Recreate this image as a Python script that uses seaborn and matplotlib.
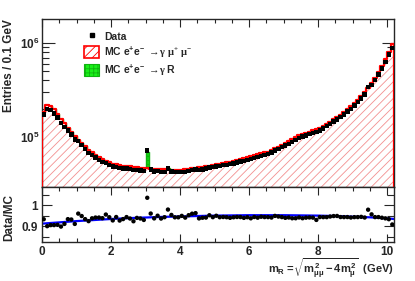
import numpy as np
import pandas as pd
import matplotlib
matplotlib.use("Agg")
import matplotlib.pyplot as plt
from matplotlib.patches import Patch
from matplotlib.lines import Line2D
from matplotlib.ticker import LogLocator, MultipleLocator, FixedLocator, NullFormatter, FixedFormatter
import seaborn as sns

# ---------------- data ----------------
# bin centres, 0.1 GeV bins from 0 to 10.2 GeV
mass_bins = np.round(np.arange(0.05, 10.2, 0.1), 2)

# MC e+e- -> gamma mu+ mu- (entries / 0.1 GeV)
mc_mumu = [
    1.86e5, 2.20e5, 2.14e5, 1.96e5, 1.77e5, 1.56e5, 1.40e5, 1.26e5, 1.14e5, 1.03e5,
    9.40e4, 8.65e4, 7.95e4, 7.35e4, 6.85e4, 6.42e4, 6.08e4, 5.80e4, 5.57e4, 5.38e4,
    5.22e4, 5.12e4, 5.04e4, 4.97e4, 4.92e4, 4.87e4, 4.82e4, 4.77e4, 4.72e4, 4.68e4,
    4.65e4, 4.62e4, 4.59e4, 4.56e4, 4.54e4, 4.52e4, 4.50e4, 4.49e4, 4.48e4, 4.48e4,
    4.49e4, 4.54e4, 4.59e4, 4.65e4, 4.70e4, 4.75e4, 4.82e4, 4.89e4, 4.97e4, 5.05e4,
    5.13e4, 5.21e4, 5.30e4, 5.38e4, 5.46e4, 5.53e4, 5.66e4, 5.79e4, 5.93e4, 6.07e4,
    6.22e4, 6.37e4, 6.53e4, 6.68e4, 6.84e4, 7.00e4, 7.28e4, 7.59e4, 7.90e4, 8.24e4,
    8.60e4, 9.00e4, 9.44e4, 9.93e4, 1.040e5, 1.074e5, 1.107e5, 1.140e5, 1.175e5, 1.208e5,
    1.245e5, 1.310e5, 1.380e5, 1.455e5, 1.535e5, 1.625e5, 1.725e5, 1.840e5, 1.970e5, 2.120e5,
    2.290e5, 2.490e5, 2.720e5, 3.000e5, 3.340e5, 3.750e5, 4.260e5, 4.900e5, 5.700e5, 6.700e5,
    8.050e5, 9.750e5,
]

# MC e+e- -> gamma R (resonances J/psi, psi(2S), Upsilon(1S))
res_mass = [3.05, 3.15, 3.65, 9.45]
res_counts = [2.3e4, 1.0e3, 2.0e3, 1.2e4]

# Data (entries / 0.1 GeV)
data_counts = [
    1.735e5, 1.980e5, 1.937e5, 1.774e5, 1.604e5, 1.401e5, 1.275e5, 1.176e5, 1.062e5, 9.38e4,
    9.02e4, 8.20e4, 7.42e4, 6.79e4, 6.42e4, 6.04e4, 5.72e4, 5.44e4, 5.32e4, 5.07e4,
    4.84e4, 4.83e4, 4.67e4, 4.64e4, 4.64e4, 4.56e4, 4.45e4, 4.48e4, 4.42e4, 4.35e4,
    7.19e4, 4.53e4, 4.30e4, 4.33e4, 4.25e4, 4.26e4, 4.60e4, 4.28e4, 4.22e4, 4.22e4,
    4.26e4, 4.27e4, 4.37e4, 4.46e4, 4.52e4, 4.45e4, 4.53e4, 4.60e4, 4.73e4, 4.76e4,
    4.87e4, 4.91e4, 5.00e4, 5.07e4, 5.13e4, 5.21e4, 5.34e4, 5.46e4, 5.57e4, 5.72e4,
    5.83e4, 6.01e4, 6.14e4, 6.31e4, 6.45e4, 6.60e4, 6.85e4, 7.20e4, 7.47e4, 7.77e4,
    8.08e4, 8.47e4, 8.85e4, 9.31e4, 9.79e4, 1.007e5, 1.041e5, 1.073e5, 1.105e5, 1.123e5,
    1.174e5, 1.235e5, 1.301e5, 1.376e5, 1.455e5, 1.541e5, 1.627e5, 1.735e5, 1.858e5, 1.995e5,
    2.159e5, 2.348e5, 2.568e5, 2.823e5, 3.384e5, 3.585e5, 4.017e5, 4.621e5, 5.358e5, 6.278e5,
    7.511e5, 8.853e5,
]

# fitted Data/MC curve (blue)
fit_mass = [0.0, 0.5, 1.0, 1.5, 2.0, 2.5, 3.0, 3.5, 4.0, 4.5, 5.0, 5.5, 6.0,
            6.5, 7.0, 7.5, 8.0, 8.5, 9.0, 9.5, 10.0, 10.2]
fit_ratio = [0.912, 0.918, 0.924, 0.929, 0.934, 0.938, 0.941, 0.944, 0.946, 0.948,
             0.950, 0.951, 0.952, 0.952, 0.952, 0.951, 0.950, 0.948, 0.945, 0.942,
             0.937, 0.934]

x_ticks = [0, 2, 4, 6, 8, 10]
x_tick_labels = ["0", "2", "4", "6", "8", "10"]

# ---------------- derived tables ----------------
df = pd.DataFrame({"mass": mass_bins, "mc": mc_mumu, "data": data_counts})
res = pd.Series(res_counts, index=np.round(res_mass, 2))
df["res"] = df["mass"].map(res).fillna(0.0)
df["mc_total"] = df["mc"] + df["res"]
df["ratio"] = df["data"] / df["mc_total"]
fit_df = pd.DataFrame({"mass": fit_mass, "ratio": fit_ratio})
edges = np.round(np.arange(0.0, 10.25, 0.1), 2).tolist()

# ---------------- style ----------------
sns.set_style("ticks")
plt.rcParams["font.family"] = ["Liberation Sans", "DejaVu Sans"]
plt.rcParams["font.weight"] = "bold"
plt.rcParams["mathtext.fontset"] = "custom"
plt.rcParams["mathtext.rm"] = "Liberation Sans:bold"
plt.rcParams["mathtext.it"] = "Liberation Sans:bold"
plt.rcParams["mathtext.bf"] = "Liberation Sans:bold"
plt.rcParams["mathtext.sf"] = "Liberation Serif"
plt.rcParams["hatch.linewidth"] = 0.6
plt.rcParams["axes.linewidth"] = 1.0

fig = plt.figure(figsize=(4.15, 2.81), dpi=100)
L, R = 42 / 415, 394 / 415
y_top, y_mid, y_bot = 18.7 / 281, 186.7 / 281, 242 / 281
ax = fig.add_axes([L, 1 - y_mid, R - L, y_mid - y_top])
axr = fig.add_axes([L, 1 - y_bot, R - L, y_bot - y_mid])

# ---------------- main panel ----------------
# total MC (mu mu + resonances) in green, mu mu drawn on top
sns.histplot(data=df, x="mass", weights="mc_total", bins=edges, element="step",
             fill=True, color="#19f019", facecolor="#19f019", edgecolor="#0fb40f",
             hatch="++++", linewidth=1.0, alpha=1, ax=ax, zorder=1)
sns.histplot(data=df, x="mass", weights="mc", bins=edges, element="step",
             fill=True, color="#f59a9a", facecolor="white", edgecolor="#f39090",
             hatch="////", linewidth=0, alpha=1, ax=ax, zorder=2)
sns.histplot(data=df, x="mass", weights="mc", bins=edges, element="step",
             fill=True, color="#ff0000", facecolor="none", edgecolor="#ff0000",
             linewidth=1.6, alpha=1, ax=ax, zorder=3)
sns.scatterplot(data=df, x="mass", y="data", marker="s", s=10, color="black",
                edgecolor="none", ax=ax, zorder=4)

ax.set_yscale("log")
ax.set_xlim(0, 10.2)
ax.set_ylim(2.96e4, 1.81e6)
ax.set_xlabel("")
ax.set_ylabel("Entries / 0.1 GeV", fontsize=8.5, fontweight="bold", loc="top")
ax.yaxis.set_label_coords(-0.077, 1.0)
ax.xaxis.set_major_locator(FixedLocator(x_ticks))
ax.xaxis.set_minor_locator(MultipleLocator(0.5))
ax.xaxis.set_major_formatter(NullFormatter())
ax.yaxis.set_major_locator(LogLocator(base=10, numticks=10))
ax.yaxis.set_minor_locator(LogLocator(base=10, subs=np.arange(2, 10), numticks=20))
ax.yaxis.set_minor_formatter(NullFormatter())
ax.tick_params(axis="both", which="both", direction="in", top=True, right=True,
               labelsize=8.5, width=0.8)
ax.tick_params(axis="y", which="major", length=9)
ax.tick_params(axis="y", which="minor", length=5)
ax.tick_params(axis="x", which="major", length=6)
ax.tick_params(axis="x", which="minor", length=3)
ax.tick_params(axis="y", which="major", pad=2)
for s in ax.spines.values():
    s.set_linewidth(1.0)

handles = [
    Line2D([], [], marker="s", linestyle="none", color="black", markersize=3.2),
    Patch(facecolor="white", edgecolor="#ff0000", hatch="////", linewidth=1.2),
    Patch(facecolor="#19f019", edgecolor="#0fb40f", hatch="++++", linewidth=0.8),
]
labels = [
    "Data",
    r"MC e$^{+}$e$^{-}$ $\mathsf{\rightarrow\!\gamma\ \mu^{+}\ \mu^{-}}$",
    r"MC e$^{+}$e$^{-}$ $\mathsf{\rightarrow\!\gamma}$ R",
]
leg = ax.legend(handles, labels, loc="upper left", bbox_to_anchor=(0.12, 0.93),
                frameon=False, fontsize=7.5, handlelength=1.45, handleheight=1.3,
                handletextpad=0.45, labelspacing=0.25, borderpad=0, borderaxespad=0)
for t in leg.get_texts():
    t.set_fontweight("bold")

# ---------------- ratio panel ----------------
sns.lineplot(data=fit_df, x="mass", y="ratio", color="#0000ff", linewidth=1.6,
             ax=axr, zorder=2)
sns.scatterplot(data=df, x="mass", y="ratio", marker="o", s=10, color="black",
                edgecolor="none", ax=axr, zorder=3)
axr.set_xlim(0, 10.2)
axr.set_ylim(0.825, 1.087)
axr.set_ylabel("Data/MC", fontsize=8.5, fontweight="bold")
axr.yaxis.set_label_coords(-0.077, 0.44)
axr.set_xlabel(r"$m_{R}$ =$\sqrt{m^{2}_{\mu\mu}- 4m^{2}_{\mu}}$  (GeV)",
               fontsize=8, fontweight="bold", loc="right", labelpad=-1)
axr.xaxis.set_major_locator(FixedLocator(x_ticks))
axr.xaxis.set_major_formatter(FixedFormatter(x_tick_labels))
axr.xaxis.set_minor_locator(MultipleLocator(0.5))
axr.yaxis.set_major_locator(FixedLocator([0.9, 1.0]))
axr.yaxis.set_major_formatter(FixedFormatter(["0.9", "1"]))
axr.yaxis.set_minor_locator(FixedLocator([0.85, 0.95, 1.05]))
axr.tick_params(axis="both", which="both", direction="in", top=True, right=True,
                labelsize=8.5, width=0.8)
axr.tick_params(axis="y", which="major", length=7, pad=3)
axr.tick_params(axis="y", which="minor", length=5)
axr.tick_params(axis="x", which="major", length=6, pad=3)
axr.tick_params(axis="x", which="minor", length=3)
for s in axr.spines.values():
    s.set_linewidth(1.0)

fig.savefig("out.png", dpi=100)
